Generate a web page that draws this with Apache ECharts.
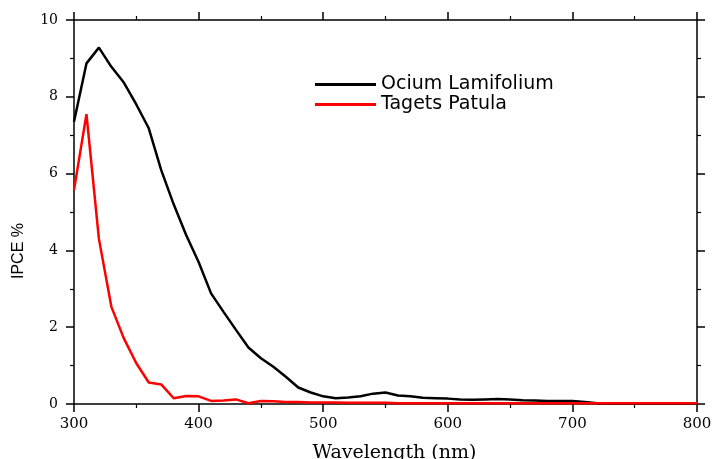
<!DOCTYPE html>
<html><head><meta charset="utf-8">
<script src="https://cdn.jsdelivr.net/npm/echarts@6/dist/echarts.min.js"></script>
<style>html,body{margin:0;padding:0;background:#fff}#c{width:712px;height:459px}</style>
</head><body><div id="c"></div>
<script>
const wavelengths = [300,310,320,330,340,350,360,370,380,390,400,410,420,430,440,450,460,470,480,490,500,510,520,530,540,550,560,570,580,590,600,610,620,630,640,650,660,670,680,690,700,710,720,730,740,750,760,770,780,790,800];
const ociumLamifolium = [7.35,8.87,9.28,8.78,8.37,7.8,7.18,6.09,5.2,4.4,3.7,2.88,2.4,1.93,1.47,1.19,0.97,0.71,0.43,0.3,0.2,0.15,0.17,0.2,0.27,0.3,0.22,0.2,0.16,0.15,0.14,0.12,0.11,0.12,0.13,0.12,0.1,0.09,0.08,0.08,0.08,0.05,0.02,0.01,0.01,0.02,0.01,0.01,0.01,0.01,0.01];
const tagetsPatula = [5.57,7.55,4.3,2.53,1.71,1.06,0.56,0.51,0.15,0.21,0.2,0.08,0.09,0.12,0.02,0.08,0.07,0.05,0.05,0.04,0.04,0.04,0.03,0.03,0.03,0.03,0.02,0.02,0.02,0.02,0.02,0.02,0.02,0.02,0.02,0.02,0.02,0.02,0.02,0.02,0.02,0.02,0.02,0.02,0.02,0.02,0.02,0.02,0.02,0.02,0.02];
const seriesNames = ['Ocium Lamifolium','Tagets Patula'];
const xTitle = 'Wavelength (nm)';
const yTitle = 'IPCE %';

const chart = echarts.init(document.getElementById('c'), null, {renderer:'canvas'});
const pairs = arr => wavelengths.map((w,i)=>[w,arr[i]]);
const serif = 'DejaVu Serif';
const axisBase = {
  axisLine:{show:true, onZero:false, lineStyle:{color:'#000', width:1.5}},
  axisTick:{show:true, inside:false, length:8, lineStyle:{color:'#000', width:1.5}},
  minorTick:{show:true, splitNumber:2, length:4, lineStyle:{color:'#000', width:1.2}},
  splitLine:{show:false}
};
chart.setOption({
  animation:false,
  backgroundColor:'#fff',
  grid:{left:74, right:15, top:20, bottom:55, containLabel:false, outerBoundsMode:'none'},
  legend:{
    orient:'vertical', left:310, top:70, itemWidth:61, itemHeight:3, itemGap:1,
    icon:'rect',
    textStyle:{fontFamily:'DejaVu Sans', fontSize:19, color:'#000'},
    data:seriesNames
  },
  xAxis:[
    Object.assign({}, axisBase, {type:'value', min:300, max:800, interval:100, position:'bottom',
      axisLabel:{fontFamily:serif, fontSize:15, color:'#000', margin:13},
      name:xTitle, nameLocation:'middle', nameGap:40,
      nameTextStyle:{fontFamily:serif, fontSize:19, color:'#000', verticalAlign:'top', padding:[0,0,0,18]}}),
    Object.assign({}, axisBase, {type:'value', min:300, max:800, interval:100, position:'top',
      axisLabel:{show:false}})
  ],
  yAxis:[
    Object.assign({}, axisBase, {type:'value', min:0, max:10, interval:2, position:'left',
      axisLabel:{fontFamily:serif, fontSize:14, color:'#000', margin:16}}),
    Object.assign({}, axisBase, {type:'value', min:0, max:10, interval:2, position:'right',
      axisLabel:{show:false}})
  ],
  graphic:[{
    type:'text', x:19, y:251, rotation:Math.PI/2,
    style:{text:yTitle, fontFamily:'Liberation Sans', fontSize:16, fill:'#000', textAlign:'center', textVerticalAlign:'middle'}
  }],
  series:[
    {name:seriesNames[0], type:'line', data:pairs(ociumLamifolium), symbol:'none', lineStyle:{color:'#000', width:2.5}, itemStyle:{color:'#000'}},
    {name:seriesNames[1], type:'line', data:pairs(tagetsPatula), symbol:'none', lineStyle:{color:'#ff0000', width:2.5}, itemStyle:{color:'#ff0000'}}
  ]
});
</script></body></html>
